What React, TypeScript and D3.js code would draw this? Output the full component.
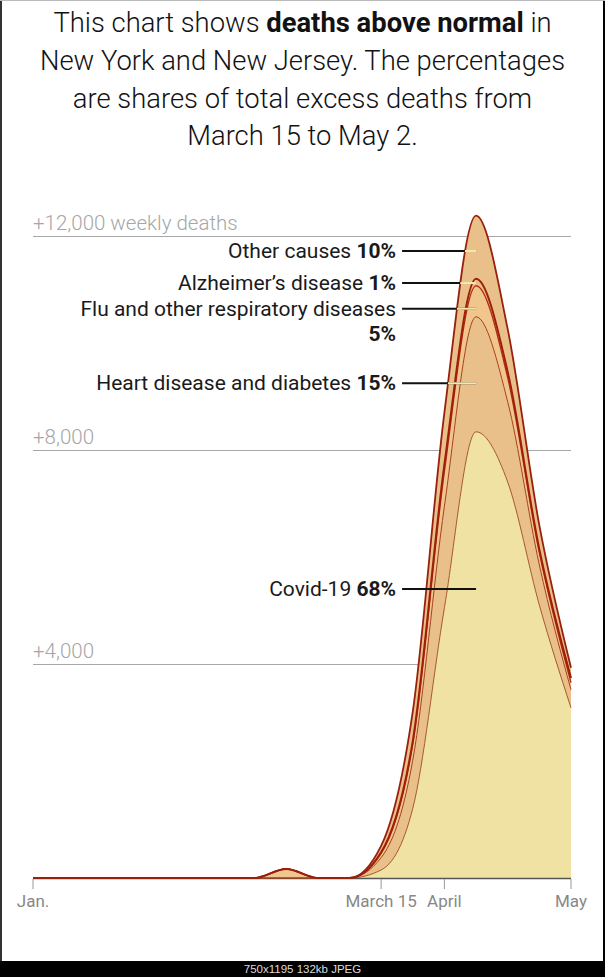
import React from "react";
import * as d3 from "d3";

// ---- data ----
const weekIndex = [0, 1, 2, 3, 4, 5, 6, 7, 8, 9, 10, 11, 12, 13, 14, 15, 16, 17];
const covid = [0, 0, 0, 0, 0, 0, 0, 0, 0, 0, 0, 150, 1300, 5050, 8340, 7400, 5100, 3180];
const heart = [0, 0, 0, 0, 0, 0, 0, 0, 0, 0, 0, 230, 900, 1900, 2150, 1500, 750, 340];
const flu = [0, 0, 0, 0, 0, 0, 0, 0, 170, 0, 0, 80, 300, 650, 580, 450, 230, 130];
const alzheimers = [0, 0, 0, 0, 0, 0, 0, 0, 0, 0, 0, 20, 60, 130, 130, 110, 60, 90];
const other = [0, 0, 0, 0, 0, 0, 0, 0, 0, 0, 0, 120, 550, 970, 1180, 800, 450, 190];

const seriesKeys = ["covid", "heart", "flu", "alzheimers", "other"];
const seriesNames = ["Covid-19", "Heart disease and diabetes", "Flu and other respiratory diseases", "Alzheimer\u2019s disease", "Other causes"];
const seriesShares = ["68%", "15%", "5%", "1%", "10%"];
const labelValues = [5400, 9250, 10640, 11120, 11720];

const tickWeeks = [0, 11, 13, 17];
const tickLabels = ["Jan.", "March 15", "April", "May"];
const gridValues = [4000, 8000, 12000];
const gridLabels = ["+4,000", "+8,000", "+12,000 weekly deaths"];

const fills = ["#efe2a3", "#e9c089", "#f0c68d", "#e8bf86", "#e9c089"];
const strokes = ["#9c4b1c", "#a5401c", "#b02d12", "#9e1f0b", "#98200c"];
const strokeWidths = [0.9, 1, 1.3, 2, 1.8];

const FONT = "Roboto, 'Liberation Sans', sans-serif";

export default function App() {
  const W = 605, H = 977;
  const x = d3.scaleLinear().domain([0, 17]).range([33, 571]);
  const y = d3.scaleLinear().domain([0, 12000]).range([878, 236]);

  const rows = weekIndex.map((w, i) => ({
    week: w,
    covid: covid[i],
    heart: heart[i],
    flu: flu[i],
    alzheimers: alzheimers[i],
    other: other[i],
  }));
  const stacked = d3.stack<any>().keys(seriesKeys)(rows);
  const curve = d3.curveMonotoneX;
  const area = d3.area<any>().x((d) => x(d.data.week)).y0((d) => y(d[0])).y1((d) => y(d[1])).curve(curve);
  const line = d3.line<any>().x((d) => x(d.data.week)).y((d) => y(d[1])).curve(curve);
  const totalArea = d3.area<any>().x((d) => x(d.data.week)).y0(y(0)).y1((d) => y(d[1])).curve(curve);

  const peakWeek = 14;
  const lx1 = x(peakWeek);
  const lx0 = lx1 - 74;
  const textX = lx0 - 6;

  return (
    <svg width={W} height={H} style={{ position: "absolute", left: 0, top: 0, background: "#fff" }} fontFamily={FONT}>
      <defs>
        <clipPath id="totalClip">
          <path d={totalArea(stacked[stacked.length - 1]) || ""} />
        </clipPath>
      </defs>
      <rect x={0} y={0} width={W} height={H} fill="#fff" />
      {/* title */}
      <g fontSize={27.4} fill="#121212" textAnchor="middle" fontWeight={300}>
        <text x={302.5} y={32}>
          This chart shows <tspan fontWeight="bold">deaths above normal</tspan> in
        </text>
        <text x={302.5} y={70}>New York and New Jersey. The percentages</text>
        <text x={302.5} y={108}>are shares of total excess deaths from</text>
        <text x={302.5} y={145}>March 15 to May 2.</text>
      </g>
      {/* grid */}
      {gridValues.map((v, i) => (
        <g key={v}>
          <line x1={x(0)} x2={x(17)} y1={y(v) + 0.5} y2={y(v) + 0.5} stroke="#a8a8a8" strokeWidth={1} />
          <text x={x(0)} y={y(v) - 6} fontSize={20.5} fontWeight={300} fill="#a6a6a6">{gridLabels[i]}</text>
        </g>
      ))}
      {/* areas */}
      {stacked.map((s, i) => (
        <path key={"a" + i} d={area(s) || ""} fill={fills[i]} />
      ))}
      {/* axis */}
      <line x1={x(0)} x2={x(17)} y1={y(0) + 0.5} y2={y(0) + 0.5} stroke="#555" strokeWidth={1.5} />
      {tickWeeks.map((w, i) => (
        <g key={"t" + w}>
          <line x1={x(w)} x2={x(w)} y1={y(0) + 1} y2={y(0) + 11} stroke="#999" strokeWidth={1} />
          <text x={x(w)} y={y(0) + 29} fontSize={17} fill="#888" textAnchor="middle">{tickLabels[i]}</text>
        </g>
      ))}
      {/* top lines */}
      {stacked.map((s, i) => (
        <path key={"l" + i} d={line(s) || ""} fill="none" stroke={strokes[i]} strokeWidth={strokeWidths[i]} />
      ))}
      {/* labels */}
      {seriesKeys.map((k, i) => {
        const ly = y(labelValues[i]);
        const isFlu = k === "flu";
        return (
          <g key={"lab" + k}>
            <line x1={lx0} x2={lx1} y1={ly} y2={ly} stroke="#111" strokeWidth={2} />
            {i > 0 && (
              <line x1={lx0} x2={lx1} y1={ly} y2={ly} stroke="#f6e7b0" strokeWidth={2} clipPath="url(#totalClip)" />
            )}
            {isFlu ? (
              <text fontSize={21} fontWeight={400} fill="#1a1a1a" textAnchor="end">
                <tspan x={textX} y={ly + 7}>{seriesNames[i]}</tspan>
                <tspan x={textX} y={ly + 32} fontWeight="bold">{seriesShares[i]}</tspan>
              </text>
            ) : (
              <text x={textX} y={ly + 7} fontSize={21} fontWeight={400} fill="#1a1a1a" textAnchor="end">
                {seriesNames[i]} <tspan fontWeight="bold">{seriesShares[i]}</tspan>
              </text>
            )}
          </g>
        );
      })}
      {/* frame */}
      <line x1={1} x2={1} y1={0} y2={961} stroke="#333" strokeWidth={2} />
      <line x1={604} x2={604} y1={0} y2={961} stroke="#000" strokeWidth={2} />
      <line x1={0} x2={W} y1={0.5} y2={0.5} stroke="#bbb" strokeWidth={1} />
      <rect x={0} y={961} width={W} height={16} fill="#000" />
      <text x={302.5} y={973} fontSize={11.5} fill="#ddd" textAnchor="middle" fontFamily="'Liberation Sans', Arial, sans-serif">750x1195 132kb JPEG</text>
    </svg>
  );
}
